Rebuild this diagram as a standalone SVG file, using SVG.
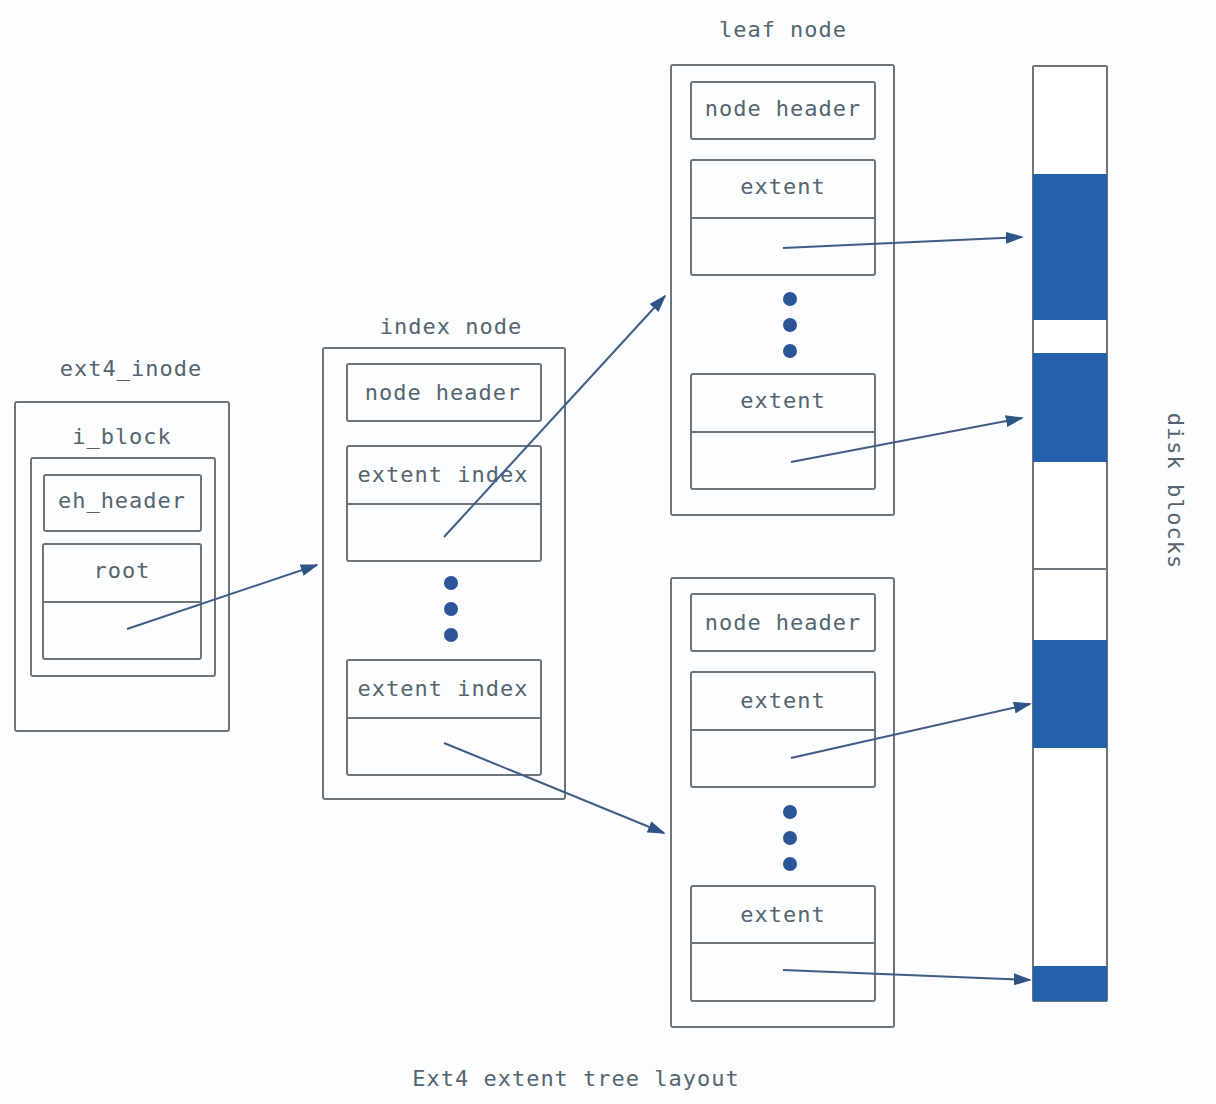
<svg xmlns="http://www.w3.org/2000/svg" width="1216" height="1104" viewBox="0 0 1216 1104">
<defs>
<style>
.bx{fill:none;stroke:#6d757b;stroke-width:2}
.wb{fill:#ffffff;stroke:#6d757b;stroke-width:2}
.t{font-family:"DejaVu Sans Mono","Liberation Mono",monospace;font-size:22px;fill:#56646e;text-anchor:middle;letter-spacing:1px}
.dot{fill:#2a5596}
.ar{fill:none;stroke:#3f5d84;stroke-width:2;marker-end:url(#ah)}
.blk{fill:#2560ad}
</style>
<marker id="ah" viewBox="0 0 10 10" refX="9" refY="5" markerWidth="18" markerHeight="12" markerUnits="userSpaceOnUse" orient="auto" preserveAspectRatio="none">
<path d="M0,0 L10,5 L0,10 z" fill="#2f5586"/>
</marker>
</defs>
<rect width="1216" height="1104" fill="#fbfdfe"/>

<g id="ext4_inode">
<text class="t" x="131" y="376">ext4_inode</text>
<rect class="bx" x="15" y="402" width="214" height="329" rx="2"/>
<text class="t" x="122" y="444">i_block</text>
<rect class="bx" x="31" y="458" width="184" height="218" rx="2"/>
<rect class="bx" x="44" y="475" width="157" height="56" rx="2"/>
<text class="t" x="122" y="508">eh_header</text>
<rect class="bx" x="43" y="544" width="158" height="115" rx="2"/>
<line class="bx" x1="43" y1="602" x2="201" y2="602"/>
<text class="t" x="122" y="578">root</text>
</g>

<g id="index_node">
<text class="t" x="451" y="334">index node</text>
<rect class="bx" x="323" y="348" width="242" height="451" rx="2"/>
<rect class="bx" x="347" y="364" width="194" height="57" rx="2"/>
<text class="t" x="443" y="400">node header</text>
<rect class="bx" x="347" y="446" width="194" height="115" rx="2"/>
<line class="bx" x1="347" y1="504" x2="541" y2="504"/>
<text class="t" x="443" y="482">extent index</text>
<circle class="dot" cx="451" cy="583" r="7"/>
<circle class="dot" cx="451" cy="609" r="7"/>
<circle class="dot" cx="451" cy="635" r="7"/>
<rect class="bx" x="347" y="660" width="194" height="115" rx="2"/>
<line class="bx" x1="347" y1="718" x2="541" y2="718"/>
<text class="t" x="443" y="696">extent index</text>
</g>

<g id="leaf_node_top">
<text class="t" x="783" y="37">leaf node</text>
<rect class="bx" x="671" y="65" width="223" height="450" rx="2"/>
<rect class="bx" x="691" y="82" width="184" height="57" rx="2"/>
<text class="t" x="783" y="116">node header</text>
<rect class="bx" x="691" y="160" width="184" height="115" rx="2"/>
<line class="bx" x1="691" y1="218" x2="875" y2="218"/>
<text class="t" x="783" y="194">extent</text>
<circle class="dot" cx="790" cy="299" r="7"/>
<circle class="dot" cx="790" cy="325" r="7"/>
<circle class="dot" cx="790" cy="351" r="7"/>
<rect class="bx" x="691" y="374" width="184" height="115" rx="2"/>
<line class="bx" x1="691" y1="432" x2="875" y2="432"/>
<text class="t" x="783" y="408">extent</text>
</g>

<g id="leaf_node_bottom">
<rect class="bx" x="671" y="578" width="223" height="449" rx="2"/>
<rect class="bx" x="691" y="594" width="184" height="57" rx="2"/>
<text class="t" x="783" y="630">node header</text>
<rect class="bx" x="691" y="672" width="184" height="115" rx="2"/>
<line class="bx" x1="691" y1="730" x2="875" y2="730"/>
<text class="t" x="783" y="708">extent</text>
<circle class="dot" cx="790" cy="812" r="7"/>
<circle class="dot" cx="790" cy="838" r="7"/>
<circle class="dot" cx="790" cy="864" r="7"/>
<rect class="bx" x="691" y="886" width="184" height="115" rx="2"/>
<line class="bx" x1="691" y1="943" x2="875" y2="943"/>
<text class="t" x="783" y="922">extent</text>
</g>

<g id="disk_blocks">
<rect class="wb" x="1033" y="66" width="74" height="935" rx="1"/>
<rect class="blk" x="1033" y="174" width="74" height="146"/>
<rect class="blk" x="1033" y="353" width="74" height="109"/>
<line class="bx" x1="1033" y1="569" x2="1107" y2="569"/>
<rect class="blk" x="1033" y="640" width="74" height="108"/>
<rect class="blk" x="1033" y="966" width="74" height="35"/>
<text class="t" transform="translate(1168,491) rotate(90)" x="0" y="0">disk blocks</text>
</g>

<g id="connectors">
<line class="ar" x1="127" y1="629" x2="317" y2="565"/>
<line class="ar" x1="444" y1="537" x2="665" y2="296"/>
<line class="ar" x1="444" y1="743" x2="664" y2="833"/>
<line class="ar" x1="783" y1="248" x2="1022" y2="237"/>
<line class="ar" x1="791" y1="462" x2="1022" y2="418"/>
<line class="ar" x1="791" y1="758" x2="1030" y2="704"/>
<line class="ar" x1="783" y1="970" x2="1030" y2="980"/>
</g>

<text class="t" x="576" y="1086">Ext4 extent tree layout</text>
</svg>
